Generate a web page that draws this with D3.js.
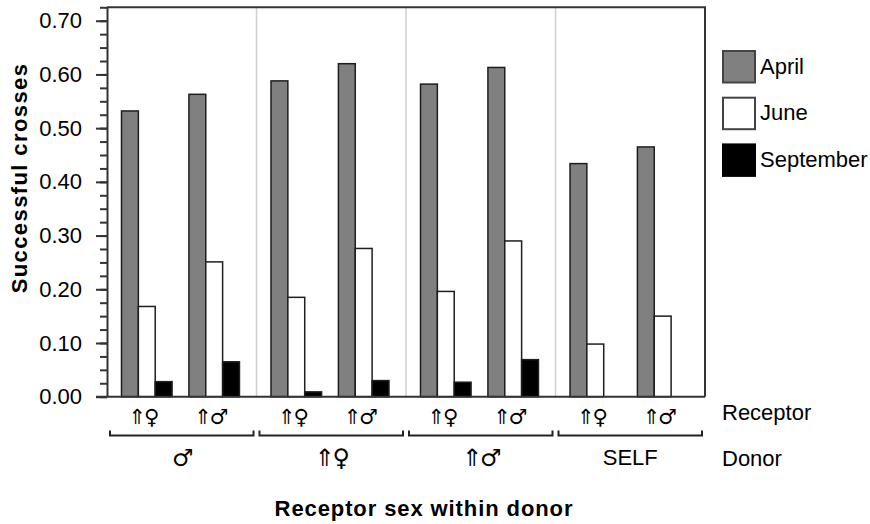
<!DOCTYPE html>
<html>
<head>
<meta charset="utf-8">
<script src="https://cdn.jsdelivr.net/npm/d3@7"></script>
<style>
  html, body { margin: 0; padding: 0; background: #fff; }
  svg { display: block; font-family: "Liberation Sans", Arial, sans-serif; }
  .sym { font-family: "DejaVu Sans", "Liberation Sans", sans-serif; letter-spacing: -2px; }
</style>
</head>
<body>
<svg id="chart" width="870" height="524"></svg>
<script>
// Donor groups and receptor sexes within each donor
const donors = ["♂", "⇑♀", "⇑♂", "SELF"];
const receptors = ["⇑♀", "⇑♂"];
const months = ["April", "June", "September"];

// Proportion of successful crosses, ordered donor by donor, receptor ⇑♀ then ⇑♂
const april     = [0.532, 0.563, 0.588, 0.620, 0.582, 0.613, 0.434, 0.465];
const june      = [0.168, 0.251, 0.185, 0.276, 0.196, 0.290, 0.098, 0.150];
const september = [0.028, 0.065, 0.009, 0.030, 0.027, 0.069, null, null];

const yTicks = [0, 0.1, 0.2, 0.3, 0.4, 0.5, 0.6, 0.7];

const seriesByMonth = { April: april, June: june, September: september };
const fills = { April: "#808080", June: "#ffffff", September: "#000000" };

const svg = d3.select("#chart");
const plotLeft = 107, plotRight = 705, plotTop = 7.3, plotBottom = 396.7;

const y = d3.scaleLinear().domain([0, 0.725]).range([plotBottom, plotTop]);
const xDonor = d3.scaleBand().domain(donors).range([plotLeft, plotRight]).padding(0);
const xRec = d3.scaleBand().domain(receptors).range([0, xDonor.bandwidth()])
  .paddingInner(0.25).paddingOuter(0.234).align(0.46);
const xMonth = d3.scaleBand().domain(months).range([0, xRec.bandwidth()]).padding(0);

// Flatten into records
const rows = [];
donors.forEach((d, di) => receptors.forEach((r, ri) => {
  months.forEach(m => {
    const v = seriesByMonth[m][di * receptors.length + ri];
    if (v !== null) rows.push({ donor: d, receptor: r, month: m, value: v });
  });
}));

// Light group separators
svg.append("g").selectAll("line")
  .data(donors.slice(1))
  .join("line")
  .attr("x1", d => xDonor(d)).attr("x2", d => xDonor(d))
  .attr("y1", plotTop).attr("y2", plotBottom)
  .attr("stroke", "#cfcfcf").attr("stroke-width", 1.5);

// Bars
svg.append("g").selectAll("rect")
  .data(rows)
  .join("rect")
  .attr("x", d => xDonor(d.donor) + xRec(d.receptor) + xMonth(d.month))
  .attr("y", d => y(d.value))
  .attr("width", xMonth.bandwidth())
  .attr("height", d => y(0) - y(d.value))
  .attr("fill", d => fills[d.month])
  .attr("stroke", "#1e1e1e")
  .attr("stroke-width", 1.5);

// Frame: top and right edges
svg.append("path")
  .attr("d", `M${plotLeft},${plotTop}H${plotRight}V${plotBottom}`)
  .attr("fill", "none").attr("stroke", "#333").attr("stroke-width", 2);

// Y axis with major and minor ticks
const yAxis = d3.axisLeft(y).tickValues(yTicks).tickFormat(d3.format(".2f"))
  .tickSizeInner(11).tickSizeOuter(0).tickPadding(14);
const yMinor = d3.axisLeft(y).tickValues(d3.range(0, 0.7251, 0.025))
  .tickFormat("").tickSizeInner(7).tickSizeOuter(0);
svg.append("g").attr("transform", `translate(${plotLeft},0)`).call(yMinor)
  .call(g => g.select(".domain").remove())
  .call(g => g.selectAll("line").attr("stroke", "#333").attr("stroke-width", 2));
const gy = svg.append("g").attr("transform", `translate(${plotLeft},0)`).call(yAxis);
gy.select(".domain").attr("stroke", "#333").attr("stroke-width", 2);
gy.selectAll(".tick line").attr("stroke", "#333").attr("stroke-width", 2);
gy.selectAll(".tick text").attr("font-size", 22).attr("fill", "#000")
  .attr("font-family", "Liberation Sans, Arial, sans-serif");

// Baseline
svg.append("line").attr("x1", plotLeft - 11).attr("x2", plotRight)
  .attr("y1", plotBottom).attr("y2", plotBottom)
  .attr("stroke", "#333").attr("stroke-width", 2);

// Receptor labels under each cluster
const recLabels = [];
donors.forEach(d => receptors.forEach(r => recLabels.push({ donor: d, receptor: r })));
svg.append("g").selectAll("text")
  .data(recLabels)
  .join("text")
  .attr("class", "sym")
  .attr("x", d => xDonor(d.donor) + xRec(d.receptor) + xRec.bandwidth() / 2 - 4)
  .attr("y", 424)
  .attr("text-anchor", "middle")
  .attr("font-size", 21)
  .text(d => d.receptor);

// Brackets grouping receptors within a donor
svg.append("g").selectAll("path")
  .data(donors)
  .join("path")
  .attr("d", d => {
    const x0 = xDonor(d) + 3, x1 = xDonor(d) + xDonor.bandwidth() - 3;
    return `M${x0},430.5V435.5H${x1}V430.5`;
  })
  .attr("fill", "none").attr("stroke", "#222").attr("stroke-width", 2);

// Donor labels
svg.append("g").selectAll("text")
  .data(donors)
  .join("text")
  .attr("class", d => d === "SELF" ? null : "sym")
  .attr("x", d => xDonor(d) + xDonor.bandwidth() / 2)
  .attr("y", d => d === "SELF" ? 465 : 466)
  .attr("text-anchor", "middle")
  .attr("font-size", d => d === "SELF" ? 22 : 24)
  .text(d => d);

// Row captions on the right
svg.append("text").attr("x", 722).attr("y", 420).attr("font-size", 22).text("Receptor");
svg.append("text").attr("x", 722).attr("y", 466).attr("font-size", 22).text("Donor");

// Axis titles
svg.append("text")
  .attr("x", 424).attr("y", 516)
  .attr("text-anchor", "middle")
  .attr("font-size", 22).attr("font-weight", "bold")
  .attr("letter-spacing", 0.9)
  .text("Receptor sex within donor");
svg.append("text")
  .attr("transform", "translate(27,178) rotate(-90)")
  .attr("text-anchor", "middle")
  .attr("font-size", 22).attr("font-weight", "bold")
  .attr("letter-spacing", 1.4)
  .text("Successful crosses");

// Legend
const legend = svg.append("g").selectAll("g")
  .data(months)
  .join("g")
  .attr("transform", (d, i) => `translate(723,${51 + i * 46.7})`);
legend.append("rect")
  .attr("width", 32).attr("height", 31.5)
  .attr("fill", d => fills[d])
  .attr("stroke", d => d === "September" ? "#000" : "#444")
  .attr("stroke-width", 2);
legend.append("text")
  .attr("x", 37).attr("y", 22.5)
  .attr("font-size", 22)
  .text(d => d);
</script>
</body>
</html>
